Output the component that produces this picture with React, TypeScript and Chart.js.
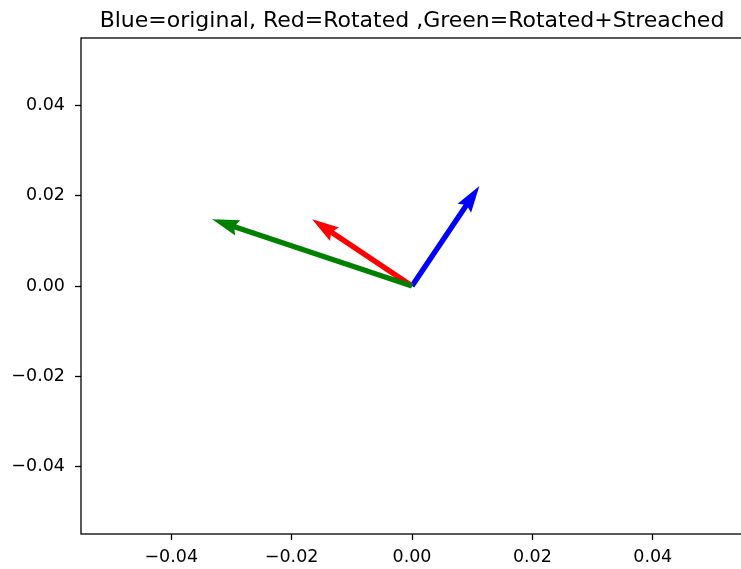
import React, { useEffect, useRef } from "react";
import { Chart, registerables } from "chart.js";

Chart.register(...registerables);

// Vectors drawn from the origin: tail at (0, 0), tip at (u, v) in data units.
const vectorNames = ["original", "Rotated", "Rotated+Streached"];
const vectorU = [0.0112, -0.0166, -0.0332];
const vectorV = [0.0222, 0.0148, 0.0148];
const vectorColors = ["#0000ff", "#ff0000", "#008000"];

const axisMin = -0.055;
const axisMax = 0.055;
const xTicks = [-0.04, -0.02, 0.0, 0.02, 0.04];
const yTicks = [-0.04, -0.02, 0.0, 0.02, 0.04];

const titleText = "Blue=original, Red=Rotated ,Green=Rotated+Streached";

const FONT = "'DejaVu Sans', sans-serif";
const CANVAS_W = 760;
const CANVAS_H = 569;

const fmt = (v: number) => v.toFixed(2).replace("-", "\u2212");

// Quiver-style arrows (shaft width w, head 3w wide, 5w long, notch at 4.5w)
const quiverPlugin = {
  id: "quiver",
  afterDatasetsDraw(chart: any) {
    const { ctx, scales, chartArea } = chart;
    const xs = scales.x;
    const ys = scales.y;
    const w = 5.4;
    ctx.save();
    ctx.beginPath();
    ctx.rect(chartArea.left, chartArea.top, chartArea.right - chartArea.left, chartArea.bottom - chartArea.top);
    ctx.clip();
    chart.data.datasets.forEach((ds: any) => {
      const [p0, p1] = ds.data;
      const ox = xs.getPixelForValue(p0.x);
      const oy = ys.getPixelForValue(p0.y);
      const tx = xs.getPixelForValue(p1.x);
      const ty = ys.getPixelForValue(p1.y);
      const dx = tx - ox;
      const dy = ty - oy;
      const L = Math.hypot(dx, dy);
      const ux = dx / L;
      const uy = dy / L;
      const nx = -uy;
      const ny = ux;
      const pt = (a: number, b: number) => [ox + ux * a + nx * b, oy + uy * a + ny * b];
      const pts = [
        pt(0, w / 2),
        pt(L - 4.5 * w, w / 2),
        pt(L - 5 * w, 1.5 * w),
        pt(L, 0),
        pt(L - 5 * w, -1.5 * w),
        pt(L - 4.5 * w, -w / 2),
        pt(0, -w / 2),
      ];
      ctx.beginPath();
      ctx.moveTo(pts[0][0], pts[0][1]);
      for (let i = 1; i < pts.length; i++) ctx.lineTo(pts[i][0], pts[i][1]);
      ctx.closePath();
      ctx.fillStyle = ds.borderColor;
      ctx.fill();
    });
    ctx.restore();
  },
  afterDraw(chart: any) {
    const { ctx, chartArea } = chart;
    ctx.save();
    // axes frame
    ctx.strokeStyle = "#000";
    ctx.lineWidth = 1.3;
    ctx.strokeRect(chartArea.left, chartArea.top, chartArea.right - chartArea.left, chartArea.bottom - chartArea.top);
    // title centred over the axes
    ctx.fillStyle = "#000";
    ctx.font = `22px ${FONT}`;
    ctx.textAlign = "center";
    ctx.textBaseline = "alphabetic";
    ctx.fillText(titleText, (chartArea.left + chartArea.right) / 2, 27);
    ctx.restore();
  },
};

export default function App() {
  const canvasRef = useRef<HTMLCanvasElement | null>(null);

  useEffect(() => {
    document.body.style.margin = "0";
    const canvas = canvasRef.current;
    if (!canvas) return;

    const datasets = vectorNames.map((name, i) => ({
      label: name,
      data: [
        { x: 0, y: 0 },
        { x: vectorU[i], y: vectorV[i] },
      ],
      borderColor: vectorColors[i],
      backgroundColor: vectorColors[i],
      showLine: false,
      pointRadius: 0,
      borderWidth: 0,
    }));

    const tickCommon = {
      font: { family: FONT, size: 17.5 },
      color: "#000",
      callback: (v: any) => fmt(Number(v)),
    };

    const chart = new Chart(canvas, {
      type: "scatter",
      data: { datasets },
      plugins: [quiverPlugin],
      options: {
        animation: false,
        responsive: false,
        devicePixelRatio: 1,
        layout: { padding: { top: 38, right: CANVAS_W - 743, left: 0, bottom: 0 } },
        plugins: {
          legend: { display: false },
          title: { display: false },
          tooltip: { enabled: false },
        },
        scales: {
          x: {
            type: "linear",
            min: axisMin,
            max: axisMax,
            afterBuildTicks: (s: any) => {
              s.ticks = xTicks.map((v) => ({ value: v }));
            },
            afterFit: (s: any) => {
              s.height = CANVAS_H - 534;
            },
            grid: { drawOnChartArea: false, drawTicks: true, tickLength: 6, tickWidth: 1.3, tickColor: "#000" },
            border: { display: false },
            ticks: { ...tickCommon, padding: 7, maxRotation: 0, autoSkip: false },
          },
          y: {
            type: "linear",
            min: axisMin,
            max: axisMax,
            afterBuildTicks: (s: any) => {
              s.ticks = yTicks.map((v) => ({ value: v }));
            },
            afterFit: (s: any) => {
              s.width = 81;
            },
            grid: { drawOnChartArea: false, drawTicks: true, tickLength: 6, tickWidth: 1.3, tickColor: "#000" },
            border: { display: false },
            ticks: { ...tickCommon, padding: 10, autoSkip: false },
          },
        },
      } as any,
    });

    return () => chart.destroy();
  }, []);

  return (
    <div style={{ width: 741, height: CANVAS_H, overflow: "hidden", position: "relative", background: "#fff" }}>
      <canvas ref={canvasRef} width={CANVAS_W} height={CANVAS_H} style={{ width: CANVAS_W, height: CANVAS_H, display: "block" }} />
    </div>
  );
}
